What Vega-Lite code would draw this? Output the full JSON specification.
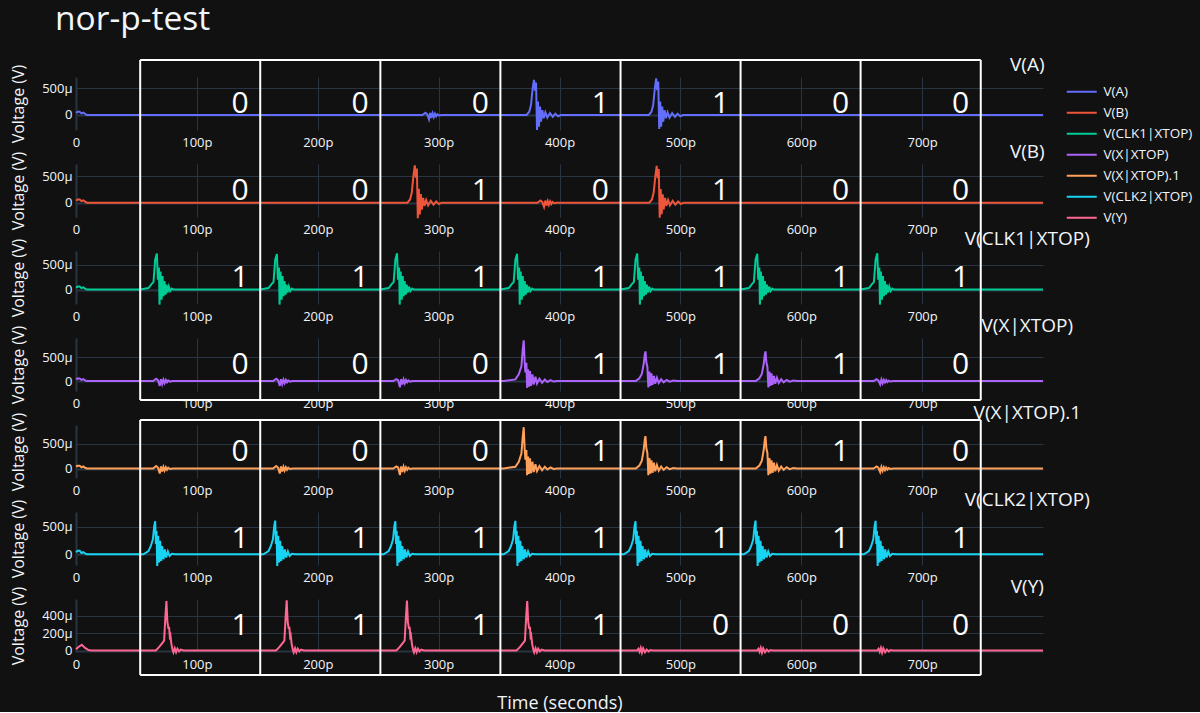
{
"$schema": "https://vega.github.io/schema/vega-lite/v6.json",
"background": "#111111",
"padding": {"left": 10, "top": 2, "right": 8, "bottom": 0},
"title": {"text": "nor-p-test", "anchor": "start", "frame": "group", "dx": -21, "offset": 19, "fontSize": 33.5, "fontWeight": "normal", "font": "Open Sans", "color": "#f2f5fa"},
"bounds": "flush",
"spacing": 34,
"datasets": {
"A": [{"t":0,"v":40},{"t":1.5,"v":60},{"t":3,"v":60},{"t":4.5,"v":30},{"t":6,"v":45},{"t":7.5,"v":20},{"t":9,"v":0},
{"t":286.5,"v":0},{"t":289.0,"v":40},{"t":290.5,"v":15},{"t":292.0,"v":-80},{"t":293.0,"v":40},{"t":294.0,"v":-55},{"t":295.0,"v":30},{"t":296.0,"v":-40},{"t":297.0,"v":25},{"t":298.0,"v":-25},{"t":299.0,"v":15},{"t":300.5,"v":-10},{"t":302.5,"v":0},
{"t":372.8,"v":0},{"t":375.0,"v":60},{"t":376.4,"v":185},{"t":377.8,"v":494},{"t":378.9,"v":650},{"t":379.7,"v":450},{"t":380.6,"v":600},{"t":381.4,"v":-278},{"t":382.2,"v":250},{"t":383.0,"v":-215},{"t":383.9,"v":155},{"t":384.7,"v":-125},{"t":385.8,"v":90},{"t":386.9,"v":-60},{"t":388.3,"v":50},{"t":389.9,"v":-50},{"t":392.1,"v":35},{"t":394.4,"v":-35},{"t":396.6,"v":25},{"t":398.8,"v":-25},{"t":401.0,"v":0},
{"t":473.9,"v":0},{"t":476.1,"v":60},{"t":477.5,"v":185},{"t":478.9,"v":500},{"t":480.0,"v":680},{"t":480.8,"v":460},{"t":481.7,"v":620},{"t":482.5,"v":-260},{"t":483.3,"v":250},{"t":484.1,"v":-215},{"t":485.0,"v":155},{"t":485.8,"v":-125},{"t":486.9,"v":90},{"t":488.0,"v":-60},{"t":489.4,"v":50},{"t":491.0,"v":-50},{"t":493.2,"v":35},{"t":495.5,"v":-35},{"t":497.7,"v":25},{"t":499.9,"v":-25},{"t":502.1,"v":0},
{"t":800,"v":0}],
"B": [{"t":0,"v":40},{"t":1.5,"v":60},{"t":3,"v":60},{"t":4.5,"v":30},{"t":6,"v":45},{"t":7.5,"v":20},{"t":9,"v":0},
{"t":274.2,"v":0},{"t":276.4,"v":60},{"t":277.8,"v":190},{"t":279.2,"v":510},{"t":280.3,"v":700},{"t":281.1,"v":470},{"t":282.0,"v":640},{"t":282.8,"v":-290},{"t":283.6,"v":260},{"t":284.4,"v":-220},{"t":285.3,"v":160},{"t":286.1,"v":-130},{"t":287.2,"v":90},{"t":288.3,"v":-60},{"t":289.7,"v":50},{"t":291.3,"v":-50},{"t":293.5,"v":35},{"t":295.8,"v":-35},{"t":298.0,"v":25},{"t":300.2,"v":-25},{"t":302.4,"v":0},
{"t":381.7,"v":0},{"t":384.2,"v":40},{"t":385.7,"v":15},{"t":387.2,"v":-80},{"t":388.2,"v":40},{"t":389.2,"v":-55},{"t":390.2,"v":30},{"t":391.2,"v":-40},{"t":392.2,"v":25},{"t":393.2,"v":-25},{"t":394.2,"v":15},{"t":395.7,"v":-10},{"t":397.7,"v":0},
{"t":474.3,"v":0},{"t":476.5,"v":60},{"t":477.9,"v":190},{"t":479.3,"v":500},{"t":480.4,"v":690},{"t":481.2,"v":460},{"t":482.1,"v":630},{"t":482.9,"v":-280},{"t":483.7,"v":255},{"t":484.5,"v":-215},{"t":485.4,"v":155},{"t":486.2,"v":-125},{"t":487.3,"v":90},{"t":488.4,"v":-60},{"t":489.8,"v":50},{"t":491.4,"v":-50},{"t":493.6,"v":35},{"t":495.9,"v":-35},{"t":498.1,"v":25},{"t":500.3,"v":-25},{"t":502.5,"v":0},
{"t":800,"v":0}],
"C1": [{"t":0,"v":40},{"t":1.5,"v":60},{"t":3,"v":60},{"t":4.5,"v":30},{"t":6,"v":45},{"t":7.5,"v":20},{"t":9,"v":0},
{"t":53.1,"v":0},{"t":60.0,"v":30},{"t":62.8,"v":120},{"t":64.1,"v":150},{"t":65.5,"v":600},{"t":66.9,"v":720},{"t":67.7,"v":200},{"t":68.6,"v":440},{"t":69.1,"v":-300},{"t":69.9,"v":360},{"t":70.8,"v":-200},{"t":71.6,"v":270},{"t":72.4,"v":-130},{"t":73.2,"v":170},{"t":74.1,"v":-100},{"t":74.9,"v":100},{"t":75.7,"v":-60},{"t":76.8,"v":60},{"t":77.9,"v":-30},{"t":79.3,"v":20},{"t":80.7,"v":0},
{"t":152.4,"v":0},{"t":159.3,"v":30},{"t":162.1,"v":120},{"t":163.4,"v":150},{"t":164.8,"v":600},{"t":166.2,"v":710},{"t":167.0,"v":200},{"t":167.9,"v":440},{"t":168.4,"v":-300},{"t":169.2,"v":360},{"t":170.1,"v":-200},{"t":170.9,"v":270},{"t":171.7,"v":-130},{"t":172.5,"v":170},{"t":173.4,"v":-100},{"t":174.2,"v":100},{"t":175.0,"v":-60},{"t":176.1,"v":60},{"t":177.2,"v":-30},{"t":178.6,"v":20},{"t":180.0,"v":0},
{"t":251.8,"v":0},{"t":258.7,"v":30},{"t":261.5,"v":120},{"t":262.8,"v":150},{"t":264.2,"v":600},{"t":265.6,"v":725},{"t":266.4,"v":200},{"t":267.3,"v":440},{"t":267.8,"v":-300},{"t":268.6,"v":360},{"t":269.5,"v":-200},{"t":270.3,"v":270},{"t":271.1,"v":-130},{"t":271.9,"v":170},{"t":272.8,"v":-100},{"t":273.6,"v":100},{"t":274.4,"v":-60},{"t":275.5,"v":60},{"t":276.6,"v":-30},{"t":278.0,"v":20},{"t":279.4,"v":0},
{"t":351.1,"v":0},{"t":358.0,"v":30},{"t":360.8,"v":120},{"t":362.1,"v":150},{"t":363.5,"v":600},{"t":364.9,"v":715},{"t":365.7,"v":200},{"t":366.6,"v":440},{"t":367.1,"v":-300},{"t":367.9,"v":360},{"t":368.8,"v":-200},{"t":369.6,"v":270},{"t":370.4,"v":-130},{"t":371.2,"v":170},{"t":372.1,"v":-100},{"t":372.9,"v":100},{"t":373.7,"v":-60},{"t":374.8,"v":60},{"t":375.9,"v":-30},{"t":377.3,"v":20},{"t":378.7,"v":0},
{"t":450.5,"v":0},{"t":457.4,"v":30},{"t":460.2,"v":120},{"t":461.5,"v":150},{"t":462.9,"v":600},{"t":464.3,"v":720},{"t":465.1,"v":200},{"t":466.0,"v":440},{"t":466.5,"v":-300},{"t":467.3,"v":360},{"t":468.2,"v":-200},{"t":469.0,"v":270},{"t":469.8,"v":-130},{"t":470.6,"v":170},{"t":471.5,"v":-100},{"t":472.3,"v":100},{"t":473.1,"v":-60},{"t":474.2,"v":60},{"t":475.3,"v":-30},{"t":476.7,"v":20},{"t":478.1,"v":0},
{"t":549.8,"v":0},{"t":556.7,"v":30},{"t":559.5,"v":120},{"t":560.8,"v":150},{"t":562.2,"v":600},{"t":563.6,"v":715},{"t":564.4,"v":200},{"t":565.3,"v":440},{"t":565.8,"v":-300},{"t":566.6,"v":360},{"t":567.5,"v":-200},{"t":568.3,"v":270},{"t":569.1,"v":-130},{"t":569.9,"v":170},{"t":570.8,"v":-100},{"t":571.6,"v":100},{"t":572.4,"v":-60},{"t":573.5,"v":60},{"t":574.6,"v":-30},{"t":576.0,"v":20},{"t":577.4,"v":0},
{"t":649.1,"v":0},{"t":656.0,"v":30},{"t":658.8,"v":120},{"t":660.1,"v":150},{"t":661.5,"v":600},{"t":662.9,"v":725},{"t":663.7,"v":200},{"t":664.6,"v":440},{"t":665.1,"v":-300},{"t":665.9,"v":360},{"t":666.8,"v":-200},{"t":667.6,"v":270},{"t":668.4,"v":-130},{"t":669.2,"v":170},{"t":670.1,"v":-100},{"t":670.9,"v":100},{"t":671.7,"v":-60},{"t":672.8,"v":60},{"t":673.9,"v":-30},{"t":675.3,"v":20},{"t":676.7,"v":0},
{"t":800,"v":0}],
"X": [{"t":0,"v":40},{"t":1.5,"v":55},{"t":3,"v":55},{"t":4.5,"v":25},{"t":6,"v":40},{"t":7.5,"v":15},{"t":9,"v":0},
{"t":63.8,"v":0},{"t":66.3,"v":50},{"t":67.8,"v":20},{"t":69.3,"v":-100},{"t":70.3,"v":40},{"t":71.3,"v":-60},{"t":72.3,"v":30},{"t":73.3,"v":-40},{"t":74.3,"v":25},{"t":75.3,"v":-25},{"t":76.3,"v":15},{"t":77.8,"v":-10},{"t":79.8,"v":0},
{"t":163.1,"v":0},{"t":165.6,"v":50},{"t":167.1,"v":20},{"t":168.6,"v":-100},{"t":169.6,"v":40},{"t":170.6,"v":-60},{"t":171.6,"v":30},{"t":172.6,"v":-40},{"t":173.6,"v":25},{"t":174.6,"v":-25},{"t":175.6,"v":15},{"t":177.1,"v":-10},{"t":179.1,"v":0},
{"t":262.5,"v":0},{"t":265.0,"v":40},{"t":266.5,"v":20},{"t":268.0,"v":-130},{"t":269.0,"v":40},{"t":270.0,"v":-70},{"t":271.0,"v":35},{"t":272.0,"v":-45},{"t":273.0,"v":25},{"t":274.0,"v":-25},{"t":275.0,"v":15},{"t":276.5,"v":-10},{"t":278.5,"v":0},
{"t":353.8,"v":0},{"t":363.5,"v":35},{"t":366.3,"v":140},{"t":368.5,"v":310},{"t":369.6,"v":660},{"t":370.4,"v":850},{"t":371.2,"v":390},{"t":371.8,"v":180},{"t":372.6,"v":380},{"t":373.2,"v":-140},{"t":374.0,"v":245},{"t":374.8,"v":-115},{"t":375.6,"v":210},{"t":376.5,"v":-100},{"t":377.6,"v":140},{"t":378.7,"v":-70},{"t":380.1,"v":90},{"t":381.4,"v":-50},{"t":383.4,"v":50},{"t":385.6,"v":-35},{"t":387.8,"v":35},{"t":390.0,"v":-20},{"t":392.5,"v":20},{"t":395.2,"v":-10},{"t":398.0,"v":0},
{"t":463.1,"v":0},{"t":466.1,"v":60},{"t":468.1,"v":150},{"t":469.6,"v":350},{"t":470.6,"v":560},{"t":471.1,"v":620},{"t":471.9,"v":380},{"t":472.7,"v":300},{"t":473.5,"v":-130},{"t":474.4,"v":200},{"t":475.2,"v":-100},{"t":476.1,"v":160},{"t":477.0,"v":-80},{"t":478.1,"v":110},{"t":479.2,"v":-55},{"t":480.6,"v":70},{"t":482.1,"v":-40},{"t":484.1,"v":40},{"t":486.1,"v":-25},{"t":488.6,"v":25},{"t":491.1,"v":-12},{"t":494.1,"v":10},{"t":497.1,"v":0},
{"t":562.4,"v":0},{"t":565.4,"v":60},{"t":567.4,"v":150},{"t":568.9,"v":350},{"t":569.9,"v":560},{"t":570.4,"v":620},{"t":571.2,"v":380},{"t":572.0,"v":300},{"t":572.8,"v":-130},{"t":573.7,"v":200},{"t":574.5,"v":-100},{"t":575.4,"v":160},{"t":576.3,"v":-80},{"t":577.4,"v":110},{"t":578.5,"v":-55},{"t":579.9,"v":70},{"t":581.4,"v":-40},{"t":583.4,"v":40},{"t":585.4,"v":-25},{"t":587.9,"v":25},{"t":590.4,"v":-12},{"t":593.4,"v":10},{"t":596.4,"v":0},
{"t":659.8,"v":0},{"t":662.3,"v":40},{"t":663.8,"v":15},{"t":665.3,"v":-70},{"t":666.3,"v":30},{"t":667.3,"v":-45},{"t":668.3,"v":25},{"t":669.3,"v":-30},{"t":670.3,"v":20},{"t":671.3,"v":-20},{"t":672.3,"v":10},{"t":673.8,"v":-8},{"t":675.8,"v":0},
{"t":800,"v":0}],
"X1": [{"t":0,"v":40},{"t":1.5,"v":55},{"t":3,"v":55},{"t":4.5,"v":25},{"t":6,"v":40},{"t":7.5,"v":15},{"t":9,"v":0},
{"t":63.8,"v":0},{"t":66.3,"v":50},{"t":67.8,"v":20},{"t":69.3,"v":-100},{"t":70.3,"v":40},{"t":71.3,"v":-60},{"t":72.3,"v":30},{"t":73.3,"v":-40},{"t":74.3,"v":25},{"t":75.3,"v":-25},{"t":76.3,"v":15},{"t":77.8,"v":-10},{"t":79.8,"v":0},
{"t":163.1,"v":0},{"t":165.6,"v":50},{"t":167.1,"v":20},{"t":168.6,"v":-100},{"t":169.6,"v":40},{"t":170.6,"v":-60},{"t":171.6,"v":30},{"t":172.6,"v":-40},{"t":173.6,"v":25},{"t":174.6,"v":-25},{"t":175.6,"v":15},{"t":177.1,"v":-10},{"t":179.1,"v":0},
{"t":262.5,"v":0},{"t":265.0,"v":40},{"t":266.5,"v":20},{"t":268.0,"v":-130},{"t":269.0,"v":40},{"t":270.0,"v":-70},{"t":271.0,"v":35},{"t":272.0,"v":-45},{"t":273.0,"v":25},{"t":274.0,"v":-25},{"t":275.0,"v":15},{"t":276.5,"v":-10},{"t":278.5,"v":0},
{"t":353.8,"v":0},{"t":363.5,"v":35},{"t":366.3,"v":135},{"t":368.5,"v":300},{"t":369.6,"v":640},{"t":370.4,"v":826},{"t":371.2,"v":380},{"t":371.8,"v":175},{"t":372.6,"v":370},{"t":373.2,"v":-135},{"t":374.0,"v":240},{"t":374.8,"v":-110},{"t":375.6,"v":205},{"t":376.5,"v":-95},{"t":377.6,"v":135},{"t":378.7,"v":-70},{"t":380.1,"v":85},{"t":381.4,"v":-50},{"t":383.4,"v":50},{"t":385.6,"v":-35},{"t":387.8,"v":35},{"t":390.0,"v":-20},{"t":392.5,"v":20},{"t":395.2,"v":-10},{"t":398.0,"v":0},
{"t":463.1,"v":0},{"t":466.1,"v":60},{"t":468.1,"v":155},{"t":469.6,"v":365},{"t":470.6,"v":585},{"t":471.1,"v":646},{"t":471.9,"v":395},{"t":472.7,"v":310},{"t":473.5,"v":-135},{"t":474.4,"v":210},{"t":475.2,"v":-105},{"t":476.1,"v":165},{"t":477.0,"v":-85},{"t":478.1,"v":115},{"t":479.2,"v":-55},{"t":480.6,"v":70},{"t":482.1,"v":-40},{"t":484.1,"v":40},{"t":486.1,"v":-25},{"t":488.6,"v":25},{"t":491.1,"v":-12},{"t":494.1,"v":10},{"t":497.1,"v":0},
{"t":562.4,"v":0},{"t":565.4,"v":60},{"t":567.4,"v":155},{"t":568.9,"v":365},{"t":569.9,"v":585},{"t":570.4,"v":646},{"t":571.2,"v":395},{"t":572.0,"v":310},{"t":572.8,"v":-135},{"t":573.7,"v":210},{"t":574.5,"v":-105},{"t":575.4,"v":165},{"t":576.3,"v":-85},{"t":577.4,"v":115},{"t":578.5,"v":-55},{"t":579.9,"v":70},{"t":581.4,"v":-40},{"t":583.4,"v":40},{"t":585.4,"v":-25},{"t":587.9,"v":25},{"t":590.4,"v":-12},{"t":593.4,"v":10},{"t":596.4,"v":0},
{"t":659.8,"v":0},{"t":662.3,"v":40},{"t":663.8,"v":15},{"t":665.3,"v":-70},{"t":666.3,"v":30},{"t":667.3,"v":-45},{"t":668.3,"v":25},{"t":669.3,"v":-30},{"t":670.3,"v":20},{"t":671.3,"v":-20},{"t":672.3,"v":10},{"t":673.8,"v":-8},{"t":675.8,"v":0},
{"t":800,"v":0}],
"C2": [{"t":0,"v":40},{"t":1.5,"v":65},{"t":3,"v":65},{"t":4.5,"v":25},{"t":6,"v":40},{"t":7.5,"v":15},{"t":9,"v":0},
{"t":55.8,"v":0},{"t":60.0,"v":60},{"t":61.9,"v":150},{"t":63.6,"v":270},{"t":64.7,"v":510},{"t":65.5,"v":600},{"t":66.1,"v":185},{"t":66.6,"v":420},{"t":67.2,"v":-210},{"t":68.0,"v":335},{"t":68.8,"v":-150},{"t":69.6,"v":245},{"t":70.5,"v":-120},{"t":71.3,"v":150},{"t":72.4,"v":-90},{"t":73.5,"v":90},{"t":74.6,"v":-60},{"t":76.0,"v":50},{"t":77.4,"v":-30},{"t":79.3,"v":10},{"t":82.1,"v":0},
{"t":155.1,"v":0},{"t":159.3,"v":60},{"t":161.2,"v":150},{"t":162.9,"v":270},{"t":164.0,"v":510},{"t":164.8,"v":610},{"t":165.4,"v":185},{"t":165.9,"v":420},{"t":166.5,"v":-210},{"t":167.3,"v":335},{"t":168.1,"v":-150},{"t":168.9,"v":245},{"t":169.8,"v":-120},{"t":170.6,"v":150},{"t":171.7,"v":-90},{"t":172.8,"v":90},{"t":173.9,"v":-60},{"t":175.3,"v":50},{"t":176.7,"v":-30},{"t":178.6,"v":10},{"t":181.4,"v":0},
{"t":254.5,"v":0},{"t":258.7,"v":60},{"t":260.6,"v":150},{"t":262.3,"v":270},{"t":263.4,"v":510},{"t":264.2,"v":600},{"t":264.8,"v":185},{"t":265.3,"v":420},{"t":265.9,"v":-210},{"t":266.7,"v":335},{"t":267.5,"v":-150},{"t":268.3,"v":245},{"t":269.2,"v":-120},{"t":270.0,"v":150},{"t":271.1,"v":-90},{"t":272.2,"v":90},{"t":273.3,"v":-60},{"t":274.7,"v":50},{"t":276.1,"v":-30},{"t":278.0,"v":10},{"t":280.8,"v":0},
{"t":353.8,"v":0},{"t":358.0,"v":60},{"t":359.9,"v":150},{"t":361.6,"v":270},{"t":362.7,"v":510},{"t":363.5,"v":605},{"t":364.1,"v":185},{"t":364.6,"v":420},{"t":365.2,"v":-210},{"t":366.0,"v":335},{"t":366.8,"v":-150},{"t":367.6,"v":245},{"t":368.5,"v":-120},{"t":369.3,"v":150},{"t":370.4,"v":-90},{"t":371.5,"v":90},{"t":372.6,"v":-60},{"t":374.0,"v":50},{"t":375.4,"v":-30},{"t":377.3,"v":10},{"t":380.1,"v":0},
{"t":453.2,"v":0},{"t":457.4,"v":60},{"t":459.3,"v":150},{"t":461.0,"v":270},{"t":462.1,"v":510},{"t":462.9,"v":600},{"t":463.5,"v":185},{"t":464.0,"v":420},{"t":464.6,"v":-210},{"t":465.4,"v":335},{"t":466.2,"v":-150},{"t":467.0,"v":245},{"t":467.9,"v":-120},{"t":468.7,"v":150},{"t":469.8,"v":-90},{"t":470.9,"v":90},{"t":472.0,"v":-60},{"t":473.4,"v":50},{"t":474.8,"v":-30},{"t":476.7,"v":10},{"t":479.5,"v":0},
{"t":552.5,"v":0},{"t":556.7,"v":60},{"t":558.6,"v":150},{"t":560.3,"v":270},{"t":561.4,"v":510},{"t":562.2,"v":610},{"t":562.8,"v":185},{"t":563.3,"v":420},{"t":563.9,"v":-210},{"t":564.7,"v":335},{"t":565.5,"v":-150},{"t":566.3,"v":245},{"t":567.2,"v":-120},{"t":568.0,"v":150},{"t":569.1,"v":-90},{"t":570.2,"v":90},{"t":571.3,"v":-60},{"t":572.7,"v":50},{"t":574.1,"v":-30},{"t":576.0,"v":10},{"t":578.8,"v":0},
{"t":651.8,"v":0},{"t":656.0,"v":60},{"t":657.9,"v":150},{"t":659.6,"v":270},{"t":660.7,"v":510},{"t":661.5,"v":605},{"t":662.1,"v":185},{"t":662.6,"v":420},{"t":663.2,"v":-210},{"t":664.0,"v":335},{"t":664.8,"v":-150},{"t":665.6,"v":245},{"t":666.5,"v":-120},{"t":667.3,"v":150},{"t":668.4,"v":-90},{"t":669.5,"v":90},{"t":670.6,"v":-60},{"t":672.0,"v":50},{"t":673.4,"v":-30},{"t":675.3,"v":10},{"t":678.1,"v":0},
{"t":800,"v":0}],
"Y": [{"t":0,"v":15},{"t":2,"v":40},{"t":4.8,"v":65},{"t":7.5,"v":30},{"t":10.3,"v":5},{"t":13,"v":0},
{"t":66.0,"v":0},{"t":68.7,"v":38},{"t":71.5,"v":88},{"t":72.9,"v":114},{"t":74.0,"v":400},{"t":74.8,"v":565},{"t":75.6,"v":326},{"t":76.5,"v":248},{"t":77.0,"v":270},{"t":77.6,"v":160},{"t":78.1,"v":175},{"t":78.9,"v":76},{"t":79.8,"v":12},{"t":80.6,"v":-20},{"t":81.7,"v":27},{"t":82.8,"v":-20},{"t":83.9,"v":20},{"t":85.3,"v":-10},{"t":86.7,"v":10},{"t":88.9,"v":0},
{"t":165.5,"v":0},{"t":168.2,"v":38},{"t":171.0,"v":88},{"t":172.4,"v":114},{"t":173.5,"v":400},{"t":174.3,"v":575},{"t":175.1,"v":326},{"t":176.0,"v":248},{"t":176.5,"v":270},{"t":177.1,"v":160},{"t":177.6,"v":175},{"t":178.4,"v":76},{"t":179.3,"v":12},{"t":180.1,"v":-20},{"t":181.2,"v":27},{"t":182.3,"v":-20},{"t":183.4,"v":20},{"t":184.8,"v":-10},{"t":186.2,"v":10},{"t":188.4,"v":0},
{"t":265.0,"v":0},{"t":267.7,"v":38},{"t":270.5,"v":88},{"t":271.9,"v":114},{"t":273.0,"v":400},{"t":273.8,"v":570},{"t":274.6,"v":326},{"t":275.5,"v":248},{"t":276.0,"v":270},{"t":276.6,"v":160},{"t":277.1,"v":175},{"t":277.9,"v":76},{"t":278.8,"v":12},{"t":279.6,"v":-20},{"t":280.7,"v":27},{"t":281.8,"v":-20},{"t":282.9,"v":20},{"t":284.3,"v":-10},{"t":285.7,"v":10},{"t":287.9,"v":0},
{"t":364.5,"v":0},{"t":367.2,"v":38},{"t":370.0,"v":88},{"t":371.4,"v":114},{"t":372.5,"v":400},{"t":373.3,"v":565},{"t":374.1,"v":326},{"t":375.0,"v":248},{"t":375.5,"v":270},{"t":376.1,"v":160},{"t":376.6,"v":175},{"t":377.4,"v":76},{"t":378.3,"v":12},{"t":379.1,"v":-20},{"t":380.2,"v":27},{"t":381.3,"v":-20},{"t":382.4,"v":20},{"t":383.8,"v":-10},{"t":385.2,"v":10},{"t":387.4,"v":0},
{"t":464.2,"v":0},{"t":465.2,"v":20},{"t":466.2,"v":-15},{"t":467.2,"v":30},{"t":468.2,"v":-25},{"t":469.2,"v":25},{"t":470.7,"v":-20},{"t":472.2,"v":10},{"t":473.7,"v":-10},{"t":475.2,"v":5},{"t":477.2,"v":0},
{"t":563.5,"v":0},{"t":564.5,"v":20},{"t":565.5,"v":-15},{"t":566.5,"v":30},{"t":567.5,"v":-25},{"t":568.5,"v":25},{"t":570.0,"v":-20},{"t":571.5,"v":10},{"t":573.0,"v":-10},{"t":574.5,"v":5},{"t":576.5,"v":0},
{"t":662.9,"v":0},{"t":663.9,"v":20},{"t":664.9,"v":-15},{"t":665.9,"v":30},{"t":666.9,"v":-25},{"t":667.9,"v":25},{"t":669.4,"v":-20},{"t":670.9,"v":10},{"t":672.4,"v":-10},{"t":673.9,"v":5},{"t":675.9,"v":0},
{"t":800,"v":0}],
"edges": [{"t":53.1},{"t":152.4},{"t":251.8},{"t":351.1},{"t":450.5},{"t":549.8},{"t":649.1},{"t":748.5}],
"span": [{"t":53.1,"t2":748.5}],
"names": [{"k":"A","name":"V(A)"},{"k":"B","name":"V(B)"},{"k":"C1","name":"V(CLK1|XTOP)"},{"k":"X","name":"V(X|XTOP)"},{"k":"X1","name":"V(X|XTOP).1"},{"k":"C2","name":"V(CLK2|XTOP)"},{"k":"Y","name":"V(Y)"}],
"digits": [
{"k":"A","t":135.8,"d":"0"},{"k":"A","t":235.1,"d":"0"},{"k":"A","t":334.5,"d":"0"},{"k":"A","t":433.8,"d":"1"},{"k":"A","t":533.2,"d":"1"},{"k":"A","t":632.5,"d":"0"},{"k":"A","t":731.8,"d":"0"},
{"k":"B","t":135.8,"d":"0"},{"k":"B","t":235.1,"d":"0"},{"k":"B","t":334.5,"d":"1"},{"k":"B","t":433.8,"d":"0"},{"k":"B","t":533.2,"d":"1"},{"k":"B","t":632.5,"d":"0"},{"k":"B","t":731.8,"d":"0"},
{"k":"C1","t":135.8,"d":"1"},{"k":"C1","t":235.1,"d":"1"},{"k":"C1","t":334.5,"d":"1"},{"k":"C1","t":433.8,"d":"1"},{"k":"C1","t":533.2,"d":"1"},{"k":"C1","t":632.5,"d":"1"},{"k":"C1","t":731.8,"d":"1"},
{"k":"X","t":135.8,"d":"0"},{"k":"X","t":235.1,"d":"0"},{"k":"X","t":334.5,"d":"0"},{"k":"X","t":433.8,"d":"1"},{"k":"X","t":533.2,"d":"1"},{"k":"X","t":632.5,"d":"1"},{"k":"X","t":731.8,"d":"0"},
{"k":"X1","t":135.8,"d":"0"},{"k":"X1","t":235.1,"d":"0"},{"k":"X1","t":334.5,"d":"0"},{"k":"X1","t":433.8,"d":"1"},{"k":"X1","t":533.2,"d":"1"},{"k":"X1","t":632.5,"d":"1"},{"k":"X1","t":731.8,"d":"0"},
{"k":"C2","t":135.8,"d":"1"},{"k":"C2","t":235.1,"d":"1"},{"k":"C2","t":334.5,"d":"1"},{"k":"C2","t":433.8,"d":"1"},{"k":"C2","t":533.2,"d":"1"},{"k":"C2","t":632.5,"d":"1"},{"k":"C2","t":731.8,"d":"1"},
{"k":"Y","t":135.8,"d":"1"},{"k":"Y","t":235.1,"d":"1"},{"k":"Y","t":334.5,"d":"1"},{"k":"Y","t":433.8,"d":"1"},{"k":"Y","t":533.2,"d":"0"},{"k":"Y","t":632.5,"d":"0"},{"k":"Y","t":731.8,"d":"0"}]
},
"vconcat": [
{"width": 967, "height": 53, "layer": [
 {"data": {"name": "A"}, "mark": {"type": "line", "strokeWidth": 2}, "encoding": {
  "x": {"field": "t", "type": "quantitative", "scale": {"domain": [0, 800], "nice": false, "zero": false}, "axis": {"values": [0,100,200,300,400,500,600,700], "labelExpr": "datum.value == 0 ? '0' : datum.value + 'p'", "title": null, "labelPadding": 6, "labelFlush": false, "gridWidth": {"condition": {"test": "datum.value === 0", "value": 2}, "value": 1}}},
  "y": {"field": "v", "type": "quantitative", "scale": {"domain": [-278, 704], "nice": false, "zero": false}, "axis": {"values": [0,500], "tickCount": 10, "labelExpr": "datum.value == 0 ? '0' : datum.value + 'μ'", "title": "Voltage (V)", "titlePadding": 15, "labelPadding": 4, "labelOverlap": false, "gridWidth": {"condition": {"test": "datum.value === 0", "value": 2}, "value": 1}}},
  "color": {"datum": "V(A)", "type": "nominal", "title": null, "scale": {"domain": ["V(A)","V(B)","V(CLK1|XTOP)","V(X|XTOP)","V(X|XTOP).1","V(CLK2|XTOP)","V(Y)"], "range": ["#636efa","#EF553B","#00cc96","#ab63fa","#FFA15A","#19d3f3","#FF6692"]}}}},
 {"data": {"name": "edges"}, "mark": {"type": "rule", "color": "#ffffff", "strokeWidth": 2}, "encoding": {
  "x": {"field": "t", "type": "quantitative"},
  "y": {"datum": 1019, "type": "quantitative"},
  "y2": {"datum": -908}}},
 {"data": {"name": "span"}, "mark": {"type": "rule", "color": "#ffffff", "strokeWidth": 2}, "encoding": {
  "x": {"field": "t", "type": "quantitative"},
  "x2": {"field": "t2"},
  "y": {"datum": 1019, "type": "quantitative"}}},
 {"data": {"name": "digits"}, "transform": [{"filter": "datum.k == 'A'"}], "mark": {"type": "text", "fontSize": 30, "color": "#ffffff", "font": "Open Sans", "baseline": "middle"}, "encoding": {
  "x": {"field": "t", "type": "quantitative"},
  "y": {"datum": 213, "type": "quantitative"},
  "text": {"field": "d"}}},
 {"data": {"name": "names"}, "transform": [{"filter": "datum.k == 'A'"}], "mark": {"type": "text", "fontSize": 19, "color": "#f2f5fa", "font": "Open Sans", "baseline": "middle"}, "encoding": {
  "x": {"datum": 787, "type": "quantitative"},
  "y": {"datum": 926, "type": "quantitative"},
  "text": {"field": "name"}}}
]},
{"width": 967, "height": 53, "layer": [
 {"data": {"name": "B"}, "mark": {"type": "line", "strokeWidth": 2}, "encoding": {
  "x": {"field": "t", "type": "quantitative", "scale": {"domain": [0, 800], "nice": false, "zero": false}, "axis": {"values": [0,100,200,300,400,500,600,700], "labelExpr": "datum.value == 0 ? '0' : datum.value + 'p'", "title": null, "labelPadding": 6, "labelFlush": false, "gridWidth": {"condition": {"test": "datum.value === 0", "value": 2}, "value": 1}}},
  "y": {"field": "v", "type": "quantitative", "scale": {"domain": [-268, 725], "nice": false, "zero": false}, "axis": {"values": [0,500], "tickCount": 10, "labelExpr": "datum.value == 0 ? '0' : datum.value + 'μ'", "title": "Voltage (V)", "titlePadding": 15, "labelPadding": 4, "labelOverlap": false, "gridWidth": {"condition": {"test": "datum.value === 0", "value": 2}, "value": 1}}},
  "color": {"datum": "V(B)", "type": "nominal", "title": null, "scale": {"domain": ["V(A)","V(B)","V(CLK1|XTOP)","V(X|XTOP)","V(X|XTOP).1","V(CLK2|XTOP)","V(Y)"], "range": ["#636efa","#EF553B","#00cc96","#ab63fa","#FFA15A","#19d3f3","#FF6692"]}}}},
 {"data": {"name": "edges"}, "mark": {"type": "rule", "color": "#ffffff", "strokeWidth": 2}, "encoding": {
  "x": {"field": "t", "type": "quantitative"},
  "y": {"datum": 725, "type": "quantitative"},
  "y2": {"datum": -905}}},
 {"data": {"name": "digits"}, "transform": [{"filter": "datum.k == 'B'"}], "mark": {"type": "text", "fontSize": 30, "color": "#ffffff", "font": "Open Sans", "baseline": "middle"}, "encoding": {
  "x": {"field": "t", "type": "quantitative"},
  "y": {"datum": 228.5, "type": "quantitative"},
  "text": {"field": "d"}}},
 {"data": {"name": "names"}, "transform": [{"filter": "datum.k == 'B'"}], "mark": {"type": "text", "fontSize": 19, "color": "#f2f5fa", "font": "Open Sans", "baseline": "middle"}, "encoding": {
  "x": {"datum": 787, "type": "quantitative"},
  "y": {"datum": 950, "type": "quantitative"},
  "text": {"field": "name"}}}
]},
{"width": 967, "height": 53, "layer": [
 {"data": {"name": "C1"}, "mark": {"type": "line", "strokeWidth": 2}, "encoding": {
  "x": {"field": "t", "type": "quantitative", "scale": {"domain": [0, 800], "nice": false, "zero": false}, "axis": {"values": [0,100,200,300,400,500,600,700], "labelExpr": "datum.value == 0 ? '0' : datum.value + 'p'", "title": null, "labelPadding": 6, "labelFlush": false, "gridWidth": {"condition": {"test": "datum.value === 0", "value": 2}, "value": 1}}},
  "y": {"field": "v", "type": "quantitative", "scale": {"domain": [-288, 772], "nice": false, "zero": false}, "axis": {"values": [0,500], "tickCount": 10, "labelExpr": "datum.value == 0 ? '0' : datum.value + 'μ'", "title": "Voltage (V)", "titlePadding": 15, "labelPadding": 4, "labelOverlap": false, "gridWidth": {"condition": {"test": "datum.value === 0", "value": 2}, "value": 1}}},
  "color": {"datum": "V(CLK1|XTOP)", "type": "nominal", "title": null, "scale": {"domain": ["V(A)","V(B)","V(CLK1|XTOP)","V(X|XTOP)","V(X|XTOP).1","V(CLK2|XTOP)","V(Y)"], "range": ["#636efa","#EF553B","#00cc96","#ab63fa","#FFA15A","#19d3f3","#FF6692"]}}}},
 {"data": {"name": "edges"}, "mark": {"type": "rule", "color": "#ffffff", "strokeWidth": 2}, "encoding": {
  "x": {"field": "t", "type": "quantitative"},
  "y": {"datum": 772, "type": "quantitative"},
  "y2": {"datum": -968}}},
 {"data": {"name": "digits"}, "transform": [{"filter": "datum.k == 'C1'"}], "mark": {"type": "text", "fontSize": 30, "color": "#ffffff", "font": "Open Sans", "baseline": "middle"}, "encoding": {
  "x": {"field": "t", "type": "quantitative"},
  "y": {"datum": 242, "type": "quantitative"},
  "text": {"field": "d"}}},
 {"data": {"name": "names"}, "transform": [{"filter": "datum.k == 'C1'"}], "mark": {"type": "text", "fontSize": 19, "color": "#f2f5fa", "font": "Open Sans", "baseline": "middle"}, "encoding": {
  "x": {"datum": 787, "type": "quantitative"},
  "y": {"datum": 1012, "type": "quantitative"},
  "text": {"field": "name"}}}
]},
{"width": 967, "height": 53, "layer": [
 {"data": {"name": "X"}, "mark": {"type": "line", "strokeWidth": 2}, "encoding": {
  "x": {"field": "t", "type": "quantitative", "scale": {"domain": [0, 800], "nice": false, "zero": false}, "axis": {"values": [0,100,200,300,400,500,600,700], "labelExpr": "datum.value == 0 ? '0' : datum.value + 'p'", "title": null, "labelPadding": 6, "labelFlush": false, "gridWidth": {"condition": {"test": "datum.value === 0", "value": 2}, "value": 1}}},
  "y": {"field": "v", "type": "quantitative", "scale": {"domain": [-206, 898], "nice": false, "zero": false}, "axis": {"values": [0,500], "tickCount": 10, "labelExpr": "datum.value == 0 ? '0' : datum.value + 'μ'", "title": "Voltage (V)", "titlePadding": 15, "labelPadding": 4, "labelOverlap": false, "gridWidth": {"condition": {"test": "datum.value === 0", "value": 2}, "value": 1}}},
  "color": {"datum": "V(X|XTOP)", "type": "nominal", "title": null, "scale": {"domain": ["V(A)","V(B)","V(CLK1|XTOP)","V(X|XTOP)","V(X|XTOP).1","V(CLK2|XTOP)","V(Y)"], "range": ["#636efa","#EF553B","#00cc96","#ab63fa","#FFA15A","#19d3f3","#FF6692"]}}}},
 {"data": {"name": "edges"}, "mark": {"type": "rule", "color": "#ffffff", "strokeWidth": 2}, "encoding": {
  "x": {"field": "t", "type": "quantitative"},
  "y": {"datum": 898, "type": "quantitative"},
  "y2": {"datum": -394}}},
 {"data": {"name": "span"}, "mark": {"type": "rule", "color": "#ffffff", "strokeWidth": 2}, "encoding": {
  "x": {"field": "t", "type": "quantitative"},
  "x2": {"field": "t2"},
  "y": {"datum": -394, "type": "quantitative"}}},
 {"data": {"name": "digits"}, "transform": [{"filter": "datum.k == 'X'"}], "mark": {"type": "text", "fontSize": 30, "color": "#ffffff", "font": "Open Sans", "baseline": "middle"}, "encoding": {
  "x": {"field": "t", "type": "quantitative"},
  "y": {"datum": 346, "type": "quantitative"},
  "text": {"field": "d"}}},
 {"data": {"name": "names"}, "transform": [{"filter": "datum.k == 'X'"}], "mark": {"type": "text", "fontSize": 19, "color": "#f2f5fa", "font": "Open Sans", "baseline": "middle"}, "encoding": {
  "x": {"datum": 787, "type": "quantitative"},
  "y": {"datum": 1148, "type": "quantitative"},
  "text": {"field": "name"}}}
]},
{"width": 967, "height": 53, "layer": [
 {"data": {"name": "X1"}, "mark": {"type": "line", "strokeWidth": 2}, "encoding": {
  "x": {"field": "t", "type": "quantitative", "scale": {"domain": [0, 800], "nice": false, "zero": false}, "axis": {"values": [0,100,200,300,400,500,600,700], "labelExpr": "datum.value == 0 ? '0' : datum.value + 'p'", "title": null, "labelPadding": 6, "labelFlush": false, "gridWidth": {"condition": {"test": "datum.value === 0", "value": 2}, "value": 1}}},
  "y": {"field": "v", "type": "quantitative", "scale": {"domain": [-190, 870], "nice": false, "zero": false}, "axis": {"values": [0,500], "tickCount": 10, "labelExpr": "datum.value == 0 ? '0' : datum.value + 'μ'", "title": "Voltage (V)", "titlePadding": 15, "labelPadding": 4, "labelOverlap": false, "gridWidth": {"condition": {"test": "datum.value === 0", "value": 2}, "value": 1}}},
  "color": {"datum": "V(X|XTOP).1", "type": "nominal", "title": null, "scale": {"domain": ["V(A)","V(B)","V(CLK1|XTOP)","V(X|XTOP)","V(X|XTOP).1","V(CLK2|XTOP)","V(Y)"], "range": ["#636efa","#EF553B","#00cc96","#ab63fa","#FFA15A","#19d3f3","#FF6692"]}}}},
 {"data": {"name": "edges"}, "mark": {"type": "rule", "color": "#ffffff", "strokeWidth": 2}, "encoding": {
  "x": {"field": "t", "type": "quantitative"},
  "y": {"datum": 970, "type": "quantitative"},
  "y2": {"datum": -870}}},
 {"data": {"name": "span"}, "mark": {"type": "rule", "color": "#ffffff", "strokeWidth": 2}, "encoding": {
  "x": {"field": "t", "type": "quantitative"},
  "x2": {"field": "t2"},
  "y": {"datum": 970, "type": "quantitative"}}},
 {"data": {"name": "digits"}, "transform": [{"filter": "datum.k == 'X1'"}], "mark": {"type": "text", "fontSize": 30, "color": "#ffffff", "font": "Open Sans", "baseline": "middle"}, "encoding": {
  "x": {"field": "t", "type": "quantitative"},
  "y": {"datum": 340, "type": "quantitative"},
  "text": {"field": "d"}}},
 {"data": {"name": "names"}, "transform": [{"filter": "datum.k == 'X1'"}], "mark": {"type": "text", "fontSize": 19, "color": "#f2f5fa", "font": "Open Sans", "baseline": "middle"}, "encoding": {
  "x": {"datum": 787, "type": "quantitative"},
  "y": {"datum": 1110, "type": "quantitative"},
  "text": {"field": "name"}}}
]},
{"width": 967, "height": 53, "layer": [
 {"data": {"name": "C2"}, "mark": {"type": "line", "strokeWidth": 2}, "encoding": {
  "x": {"field": "t", "type": "quantitative", "scale": {"domain": [0, 800], "nice": false, "zero": false}, "axis": {"values": [0,100,200,300,400,500,600,700], "labelExpr": "datum.value == 0 ? '0' : datum.value + 'p'", "title": null, "labelPadding": 6, "labelFlush": false, "gridWidth": {"condition": {"test": "datum.value === 0", "value": 2}, "value": 1}}},
  "y": {"field": "v", "type": "quantitative", "scale": {"domain": [-194, 766], "nice": false, "zero": false}, "axis": {"values": [0,500], "tickCount": 10, "labelExpr": "datum.value == 0 ? '0' : datum.value + 'μ'", "title": "Voltage (V)", "titlePadding": 15, "labelPadding": 4, "labelOverlap": false, "gridWidth": {"condition": {"test": "datum.value === 0", "value": 2}, "value": 1}}},
  "color": {"datum": "V(CLK2|XTOP)", "type": "nominal", "title": null, "scale": {"domain": ["V(A)","V(B)","V(CLK1|XTOP)","V(X|XTOP)","V(X|XTOP).1","V(CLK2|XTOP)","V(Y)"], "range": ["#636efa","#EF553B","#00cc96","#ab63fa","#FFA15A","#19d3f3","#FF6692"]}}}},
 {"data": {"name": "edges"}, "mark": {"type": "rule", "color": "#ffffff", "strokeWidth": 2}, "encoding": {
  "x": {"field": "t", "type": "quantitative"},
  "y": {"datum": 766, "type": "quantitative"},
  "y2": {"datum": -810}}},
 {"data": {"name": "digits"}, "transform": [{"filter": "datum.k == 'C2'"}], "mark": {"type": "text", "fontSize": 30, "color": "#ffffff", "font": "Open Sans", "baseline": "middle"}, "encoding": {
  "x": {"field": "t", "type": "quantitative"},
  "y": {"datum": 286, "type": "quantitative"},
  "text": {"field": "d"}}},
 {"data": {"name": "names"}, "transform": [{"filter": "datum.k == 'C2'"}], "mark": {"type": "text", "fontSize": 19, "color": "#f2f5fa", "font": "Open Sans", "baseline": "middle"}, "encoding": {
  "x": {"datum": 787, "type": "quantitative"},
  "y": {"datum": 983, "type": "quantitative"},
  "text": {"field": "name"}}}
]},
{"width": 967, "height": 53, "layer": [
 {"data": {"name": "Y"}, "mark": {"type": "line", "strokeWidth": 2}, "encoding": {
  "x": {"field": "t", "type": "quantitative", "scale": {"domain": [0, 800], "nice": false, "zero": false}, "axis": {"values": [0,100,200,300,400,500,600,700], "labelExpr": "datum.value == 0 ? '0' : datum.value + 'p'", "title": "Time (seconds)", "titleFontSize": 18, "titlePadding": 23, "labelPadding": 6, "labelFlush": false, "gridWidth": {"condition": {"test": "datum.value === 0", "value": 2}, "value": 1}}},
  "y": {"field": "v", "type": "quantitative", "scale": {"domain": [-17, 589], "nice": false, "zero": false}, "axis": {"values": [0,200,400], "tickCount": 10, "labelExpr": "datum.value == 0 ? '0' : datum.value + 'μ'", "title": "Voltage (V)", "titlePadding": 15, "labelPadding": 4, "labelOverlap": false, "gridWidth": {"condition": {"test": "datum.value === 0", "value": 2}, "value": 1}}},
  "color": {"datum": "V(Y)", "type": "nominal", "title": null, "scale": {"domain": ["V(A)","V(B)","V(CLK1|XTOP)","V(X|XTOP)","V(X|XTOP).1","V(CLK2|XTOP)","V(Y)"], "range": ["#636efa","#EF553B","#00cc96","#ab63fa","#FFA15A","#19d3f3","#FF6692"]}}}},
 {"data": {"name": "edges"}, "mark": {"type": "rule", "color": "#ffffff", "strokeWidth": 2}, "encoding": {
  "x": {"field": "t", "type": "quantitative"},
  "y": {"datum": 589, "type": "quantitative"},
  "y2": {"datum": -280}}},
 {"data": {"name": "span"}, "mark": {"type": "rule", "color": "#ffffff", "strokeWidth": 2}, "encoding": {
  "x": {"field": "t", "type": "quantitative"},
  "x2": {"field": "t2"},
  "y": {"datum": -280, "type": "quantitative"}}},
 {"data": {"name": "digits"}, "transform": [{"filter": "datum.k == 'Y'"}], "mark": {"type": "text", "fontSize": 30, "color": "#ffffff", "font": "Open Sans", "baseline": "middle"}, "encoding": {
  "x": {"field": "t", "type": "quantitative"},
  "y": {"datum": 286, "type": "quantitative"},
  "text": {"field": "d"}}},
 {"data": {"name": "names"}, "transform": [{"filter": "datum.k == 'Y'"}], "mark": {"type": "text", "fontSize": 19, "color": "#f2f5fa", "font": "Open Sans", "baseline": "middle"}, "encoding": {
  "x": {"datum": 787, "type": "quantitative"},
  "y": {"datum": 726, "type": "quantitative"},
  "text": {"field": "name"}}}
]}
],
"config": {
 "view": {"stroke": null},
 "font": "Open Sans",
 "axis": {"domain": false, "ticks": false, "gridColor": "#283442", "labelColor": "#f2f5fa", "labelFont": "Open Sans", "labelFontSize": 13, "titleColor": "#f2f5fa", "titleFont": "Open Sans", "titleFontWeight": "normal", "titleFontSize": 16},
 "legend": {"orient": "none", "legendX": 999, "legendY": 8, "padding": 0, "labelColor": "#f2f5fa", "labelFont": "Open Sans", "labelFontSize": 13.5, "symbolType": "M-3,0L3,0", "symbolSize": 100, "symbolStrokeWidth": 2, "labelOffset": 15, "rowPadding": 6}
}
}
